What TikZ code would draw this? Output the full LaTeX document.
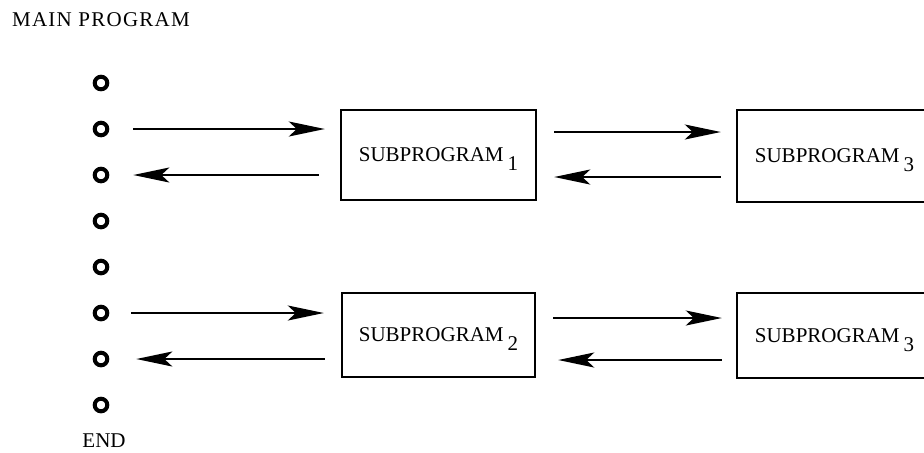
\documentclass[tikz,border=0pt]{standalone}
\usepackage{fontspec}
\setmainfont{Liberation Serif}
\usetikzlibrary{arrows.meta,calc}
\newcommand{\subidx}[1]{\kern2pt\raisebox{-4.5pt}[0pt][0pt]{\fontsize{10.5}{12}\selectfont #1}}
\begin{document}
\begin{tikzpicture}[x=0.5pt,y=-0.5pt,
  ring/.style={circle,draw,line width=2pt,minimum size=6.3pt,inner sep=0pt},
  subbox/.style={draw,line width=1.2pt,inner sep=0pt,minimum width=97.5pt,font=\fontsize{10.5}{12}\selectfont},
  arr/.style={line width=1.1pt,-{Stealth[length=18pt,width=7.5pt,inset=4pt]}},
  lbl/.style={inner sep=0pt,font=\fontsize{10.5}{12}\selectfont}]
\useasboundingbox (0,0) rectangle (924,452);
\clip (0,0) rectangle (924,452);
\node[lbl] (main) at (101,20) {\addfontfeature{LetterSpace=6}MAIN PROGRAM};
\foreach \i in {1,...,8} \node[ring] (c\i) at (101,{83+46*(\i-1)}) {};
\node[lbl] (end) at (104,441) {END};
\node[subbox,minimum height=45pt] (b1) at (438.5,155) {SUBPROGRAM\subidx{1}};
\node[subbox,minimum height=42pt,minimum width=96.5pt] (b2) at (438.5,335) {SUBPROGRAM\subidx{2}};
\node[subbox,minimum height=46pt] (b3) at (834.5,156) {SUBPROGRAM\subidx{3}};
\node[subbox,minimum height=42.5pt] (b4) at (834.5,335.5) {SUBPROGRAM\subidx{3}};
% main program <-> subprogram 1
\draw[arr] ($(c2.east)+(24,0)$) -- ($(b1.west |- c2)+(-15,0)$);
\draw[arr] ($(b1.west |- c3)+(-21,0)$) -- ($(c3.east)+(24,0)$);
% main program <-> subprogram 2
\draw[arr] ($(c6.east)+(22,0)$) -- ($(b2.west |- c6)+(-17,0)$);
\draw[arr] ($(b2.west |- c7)+(-16,0)$) -- ($(c7.east)+(27,0)$);
% subprogram 1 <-> subprogram 3
\draw[arr] ($(b1.east |- c2)+(17,3)$) -- ($(b3.west |- c2)+(-15,3)$);
\draw[arr] ($(b3.west |- c3)+(-15,2)$) -- ($(b1.east |- c3)+(17,2)$);
% subprogram 2 <-> subprogram 3
\draw[arr] ($(b2.east |- c6)+(17,5)$) -- ($(b4.west |- c6)+(-14,5)$);
\draw[arr] ($(b4.west |- c7)+(-14,1)$) -- ($(b2.east |- c7)+(22,1)$);
\end{tikzpicture}
\end{document}
